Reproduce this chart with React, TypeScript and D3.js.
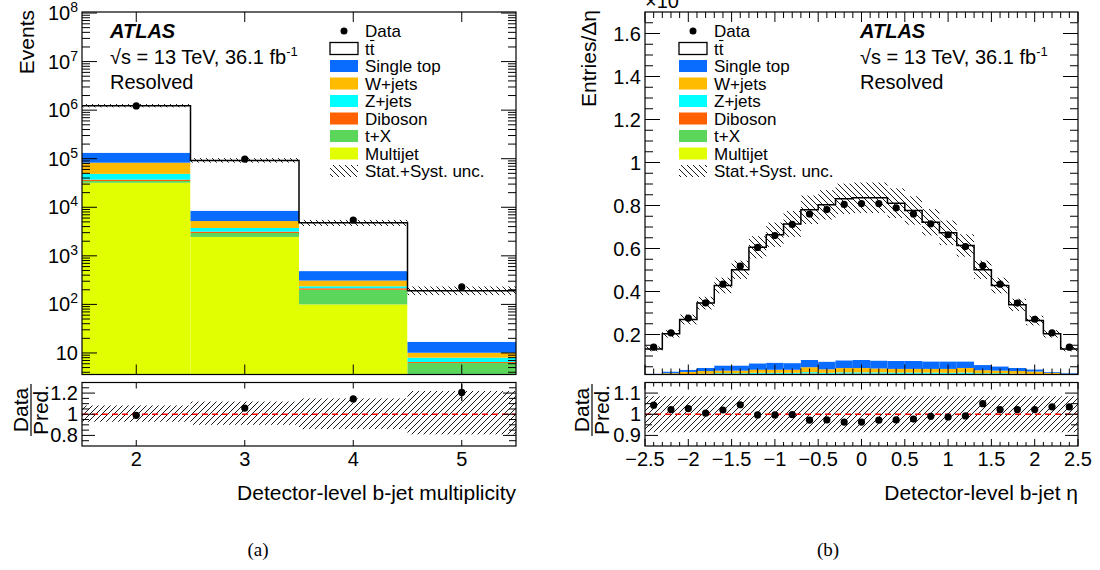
import React from 'react';
import * as d3 from 'd3';

// ---------- (a) b-jet multiplicity ----------
const nbBins = [2, 3, 4, 5];
const nbTtbar = [1.10e6, 8.35e4, 4300, 175];
const nbSingleTop = [5.0e4, 3300, 175, 6.9];
const nbWjets = [3.4e4, 1450, 74, 2.1];
const nbZjets = [1.17e4, 600, 21, 1.5];
const nbDiboson = [2300, 200, 15, 0.3];
const nbTX = [2800, 500, 100, 6.2];
const nbMultijet = [3.2e4, 2450, 100, 0];
const nbData = [1.22e6, 9.8e4, 5470, 229];
const nbRatio = [0.99, 1.058, 1.145, 1.206];
const nbRatioErr = [0.002, 0.005, 0.02, 0.08];
const nbUncUp = [0.083, 0.12, 0.15, 0.22];
const nbUncDown = [0.071, 0.10, 0.14, 0.19];

// ---------- (b) b-jet eta (units of 10^6) ----------
const etaCenters = [-2.4, -2.2, -2.0, -1.8, -1.6, -1.4, -1.2, -1.0, -0.8, -0.6, -0.4, -0.2, 0, 0.2, 0.4, 0.6, 0.8, 1.0, 1.2, 1.4, 1.6, 1.8, 2.0, 2.2, 2.4];
const etaHalfWidth = 0.1;
const etaTtbar = [0.115, 0.175, 0.234, 0.301, 0.372, 0.445, 0.540, 0.595, 0.647, 0.698, 0.729, 0.751, 0.754, 0.757, 0.734, 0.700, 0.647, 0.598, 0.539, 0.443, 0.376, 0.293, 0.227, 0.177, 0.111];
const etaSingleTop = [0.002, 0.008, 0.010, 0.015, 0.024, 0.024, 0.030, 0.033, 0.031, 0.034, 0.036, 0.036, 0.038, 0.037, 0.037, 0.037, 0.035, 0.035, 0.031, 0.024, 0.020, 0.015, 0.010, 0.004, 0.004];
const etaWjets = [0.006, 0.007, 0.010, 0.012, 0.012, 0.012, 0.014, 0.014, 0.014, 0.023, 0.016, 0.020, 0.020, 0.018, 0.017, 0.017, 0.017, 0.018, 0.021, 0.014, 0.012, 0.012, 0.012, 0.009, 0.008];
const etaZjets = [0.002, 0.003, 0.004, 0.004, 0.005, 0.005, 0.005, 0.005, 0.005, 0.006, 0.005, 0.006, 0.006, 0.006, 0.006, 0.006, 0.006, 0.005, 0.006, 0.005, 0.005, 0.004, 0.004, 0.003, 0.002];
const etaDiboson = [0.001, 0.001, 0.001, 0.001, 0.002, 0.002, 0.002, 0.002, 0.002, 0.002, 0.002, 0.002, 0.002, 0.002, 0.002, 0.002, 0.002, 0.002, 0.002, 0.002, 0.002, 0.001, 0.001, 0.001, 0.001];
const etaTX = [0.004, 0.005, 0.006, 0.007, 0.007, 0.007, 0.008, 0.008, 0.008, 0.009, 0.008, 0.008, 0.008, 0.008, 0.008, 0.008, 0.008, 0.008, 0.008, 0.007, 0.007, 0.007, 0.006, 0.005, 0.004];
const etaMultijet = [0.003, 0.004, 0.005, 0.006, 0.006, 0.006, 0.007, 0.007, 0.007, 0.008, 0.007, 0.008, 0.008, 0.008, 0.007, 0.007, 0.007, 0.007, 0.007, 0.006, 0.006, 0.006, 0.005, 0.004, 0.003];
const etaData = [0.141, 0.208, 0.276, 0.347, 0.434, 0.518, 0.605, 0.660, 0.712, 0.760, 0.781, 0.805, 0.809, 0.809, 0.789, 0.761, 0.715, 0.664, 0.609, 0.521, 0.434, 0.346, 0.271, 0.208, 0.141];
const etaRatio = [1.043, 1.022, 1.027, 1.005, 1.02, 1.045, 0.997, 0.997, 0.998, 0.972, 0.973, 0.963, 0.963, 0.972, 0.973, 0.977, 0.99, 0.987, 0.992, 1.05, 1.022, 1.022, 1.022, 1.035, 1.035];
const etaUnc = [0.085, 0.085, 0.085, 0.085, 0.085, 0.085, 0.085, 0.085, 0.085, 0.085, 0.085, 0.085, 0.085, 0.085, 0.085, 0.085, 0.085, 0.085, 0.085, 0.085, 0.085, 0.085, 0.085, 0.085, 0.085];

const legendLabels = ['Single top', 'W+jets', 'Z+jets', 'Diboson', 't+X', 'Multijet'];

const COL = {
  singleTop: '#0a6cff', wjets: '#ffbb00', zjets: '#00ffff', diboson: '#ff6000', tX: '#5bd65b', multijet: '#e1ff00',
};
const FONT = '"Liberation Sans", Arial, Helvetica, sans-serif';
const SERIF = '"Liberation Serif", "Times New Roman", serif';

const LX0 = 82, LX1 = 516, RX0 = 645, RX1 = 1078;
const MT = 12, MB = 374.5, RT = 382.5, RB = 446;

const stackFills = [COL.multijet, COL.tX, COL.diboson, COL.zjets, COL.wjets, COL.singleTop, '#ffffff'];
const fmt = d3.format('~g');

function Legend({ bx, tx }: { bx: number; tx: number }) {
  const y0 = 31, dy = 17.5, bw = 28, bh = 12, fs = 17;
  const rows: any[] = [];
  rows.push(
    <g key="data">
      <circle cx={bx + bw / 2} cy={y0} r={3.5} fill="#000" />
      <text x={tx} y={y0 + 6} fontSize={fs}>Data</text>
    </g>
  );
  rows.push(
    <g key="tt">
      <rect x={bx} y={y0 + dy - bh / 2} width={bw} height={bh} fill="#fff" stroke="#000" strokeWidth={1.3} />
      <text x={tx} y={y0 + dy + 6} fontSize={fs}>tt</text>
      <line x1={tx + 5} x2={tx + 9.4} y1={y0 + dy - 8} y2={y0 + dy - 8} stroke="#000" strokeWidth={1.1} />
    </g>
  );
  const fills = [COL.singleTop, COL.wjets, COL.zjets, COL.diboson, COL.tX, COL.multijet];
  legendLabels.forEach((lab, i) => {
    const cy = y0 + dy * (i + 2);
    rows.push(
      <g key={lab}>
        <rect x={bx} y={cy - bh / 2} width={bw} height={bh} fill={fills[i]} />
        <text x={tx} y={cy + 6} fontSize={fs}>{lab}</text>
      </g>
    );
  });
  const cy = y0 + dy * 8;
  rows.push(
    <g key="unc">
      <rect x={bx} y={cy - bh / 2} width={bw} height={bh} fill="url(#hatchB)" />
      <text x={tx} y={cy + 6} fontSize={fs}>Stat.+Syst. unc.</text>
    </g>
  );
  return <g>{rows}</g>;
}

function AtlasLabel({ x }: { x: number }) {
  return (
    <g>
      <text x={x} y={38} fontSize={20} fontWeight="bold" fontStyle="italic">ATLAS</text>
      <text x={x} y={64} fontSize={20}>√s = 13 TeV, 36.1 fb<tspan dy={-8} fontSize={13}>-1</tspan></text>
      <text x={x} y={89} fontSize={20}>Resolved</text>
    </g>
  );
}

function RatioTitle({ x }: { x: number }) {
  return (
    <g transform={`translate(${x},410) rotate(-90)`}>
      <text x={0} y={-3} fontSize={21} textAnchor="middle">Data</text>
      <line x1={-26} x2={26} y1={0} y2={0} stroke="#000" strokeWidth={1.2} />
      <text x={0} y={17} fontSize={21} textAnchor="middle">Pred.</text>
    </g>
  );
}

function yTicks(key: string, ys: number[], x0: number, x1: number, len: number) {
  return ys.map((y, i) => (
    <g key={`${key}${i}`}>
      <line x1={x0} x2={x0 + len} y1={y} y2={y} stroke="#000" strokeWidth={1} />
      <line x1={x1 - len} x2={x1} y1={y} y2={y} stroke="#000" strokeWidth={1} />
    </g>
  ));
}
function xTicks(key: string, xs: number[], yTop: number, yBot: number, len: number) {
  return xs.map((x, i) => (
    <g key={`${key}${i}`}>
      <line x1={x} x2={x} y1={yBot} y2={yBot - len} stroke="#000" strokeWidth={1} />
      <line x1={x} x2={x} y1={yTop} y2={yTop + len} stroke="#000" strokeWidth={1} />
    </g>
  ));
}

function LeftPanel() {
  const xL = d3.scaleLinear().domain([1.5, 5.5]).range([LX0, LX1]);
  const yL = d3.scaleLog().domain([3.6, 1.05e8]).range([MB, MT]);
  const yLr = d3.scaleLinear().domain([0.7, 1.3]).range([RB, RT]);
  const stack = [nbMultijet, nbTX, nbDiboson, nbZjets, nbWjets, nbSingleTop, nbTtbar];
  const totals = nbBins.map((_, i) => d3.sum(stack, (a) => a[i]));

  const rects: any[] = [];
  nbBins.forEach((c, i) => {
    let cum = 0;
    stack.forEach((arr, k) => {
      const lo = cum, hi = cum + arr[i];
      cum = hi;
      if (arr[i] <= 0) return;
      const yt = yL(hi), yb = lo > 0 ? yL(lo) : MB + 5;
      rects.push(<rect key={`s${i}-${k}`} x={xL(c - 0.5)} y={yt} width={xL(c + 0.5) - xL(c - 0.5)} height={Math.max(0, yb - yt)} fill={stackFills[k]} />);
    });
  });
  const stepPts: [number, number][] = [];
  nbBins.forEach((c, i) => { stepPts.push([xL(c - 0.5), yL(totals[i])]); stepPts.push([xL(c + 0.5), yL(totals[i])]); });
  const step = d3.line()(stepPts) || '';

  const majorY = d3.range(1, 9).map((e) => Math.pow(10, e));
  const minorY: number[] = [];
  for (let e = 0; e <= 8; e++) for (let k = 2; k <= 9; k++) { const v = k * Math.pow(10, e); if (v > 3.6 && v < 1.05e8) minorY.push(v); }

  const ratioMajor = [0.8, 1, 1.2];
  const ratioMinor = [0.75, 0.85, 0.9, 0.95, 1.05, 1.1, 1.15, 1.25];

  return (
    <g>
      <g clipPath="url(#clipLM)">
        {rects}
        {nbBins.map((c, i) => (
          <rect key={`h${i}`} x={xL(c - 0.5)} y={yL(totals[i] * (1 + nbUncUp[i]))} width={xL(c + 0.5) - xL(c - 0.5)}
            height={yL(totals[i] * (1 - nbUncDown[i])) - yL(totals[i] * (1 + nbUncUp[i]))} fill="url(#hatchB)" />
        ))}
        <path d={step} fill="none" stroke="#000" strokeWidth={1.5} />
        {nbBins.map((c, i) => <circle key={`d${i}`} cx={xL(c)} cy={yL(nbData[i])} r={3.6} fill="#000" />)}
      </g>
      {yTicks('lmM', majorY.map((v) => yL(v)), LX0, LX1, 15)}
      {yTicks('lmm', minorY.map((v) => yL(v)), LX0, LX1, 8)}
      {xTicks('lmx', nbBins.map((c) => xL(c)), MT, MB, 10)}
      <rect x={LX0} y={MT} width={LX1 - LX0} height={MB - MT} fill="none" stroke="#000" strokeWidth={1.2} />
      {majorY.map((v, i) => (
        <text key={`yl${i}`} x={LX0 - 4} y={yL(v) + 7} fontSize={20} textAnchor="end">10{i > 0 ? <tspan dy={-8} fontSize={14}>{i + 1}</tspan> : null}</text>
      ))}
      <text transform={`translate(34,10) rotate(-90)`} fontSize={21} textAnchor="end">Events</text>
      <AtlasLabel x={110} />
      <Legend bx={330} tx={365} />

      {/* ratio */}
      <g clipPath="url(#clipLR)">
        {nbBins.map((c, i) => (
          <rect key={`rb${i}`} x={xL(c - 0.5)} y={yLr(1 + nbUncUp[i])} width={xL(c + 0.5) - xL(c - 0.5)}
            height={yLr(1 - nbUncDown[i]) - yLr(1 + nbUncUp[i])} fill="url(#hatchF)" />
        ))}
        <line x1={LX0} x2={LX1} y1={yLr(1)} y2={yLr(1)} stroke="#ff0000" strokeWidth={1.5} strokeDasharray="6 4" />
        {nbBins.map((c, i) => (
          <g key={`rp${i}`}>
            <line x1={xL(c)} x2={xL(c)} y1={yLr(nbRatio[i] - nbRatioErr[i])} y2={yLr(nbRatio[i] + nbRatioErr[i])} stroke="#000" strokeWidth={1.2} />
            <circle cx={xL(c)} cy={yLr(nbRatio[i])} r={3.6} fill="#000" />
          </g>
        ))}
      </g>
      {yTicks('lrM', ratioMajor.map((v) => yLr(v)), LX0, LX1, 13)}
      {yTicks('lrm', ratioMinor.map((v) => yLr(v)), LX0, LX1, 7)}
      {xTicks('lrx', nbBins.map((c) => xL(c)), RT, RB, 6)}
      <rect x={LX0} y={RT} width={LX1 - LX0} height={RB - RT} fill="none" stroke="#000" strokeWidth={1.2} />
      {ratioMajor.map((v, i) => (
        <text key={`ry${i}`} x={LX0 - 4} y={yLr(v) + 7} fontSize={20} textAnchor="end">{fmt(v)}</text>
      ))}
      {nbBins.map((c, i) => (
        <text key={`xl${i}`} x={xL(c)} y={466} fontSize={20} textAnchor="middle">{c}</text>
      ))}
      <RatioTitle x={31} />
      <text x={LX1} y={500} fontSize={21} textAnchor="end">Detector-level b-jet multiplicity</text>
      <text x={258} y={556} fontSize={19} textAnchor="middle" fontFamily={SERIF}>(a)</text>
    </g>
  );
}

function RightPanel() {
  const xR = d3.scaleLinear().domain([-2.5, 2.5]).range([RX0, RX1]);
  const yR = d3.scaleLinear().domain([0.014, 1.7]).range([MB, MT]);
  const yRr = d3.scaleLinear().domain([0.85, 1.15]).range([RB, RT]);
  const stack = [etaMultijet, etaTX, etaDiboson, etaZjets, etaWjets, etaSingleTop, etaTtbar];
  const totals = etaCenters.map((_, i) => d3.sum(stack, (a) => a[i]));

  const rects: any[] = [];
  etaCenters.forEach((c, i) => {
    let cum = 0;
    stack.forEach((arr, k) => {
      const lo = cum, hi = cum + arr[i];
      cum = hi;
      if (arr[i] <= 0) return;
      const yt = yR(hi), yb = yR(lo);
      rects.push(<rect key={`s${i}-${k}`} x={xR(c - etaHalfWidth)} y={yt} width={xR(c + etaHalfWidth) - xR(c - etaHalfWidth)} height={Math.max(0, yb - yt)} fill={stackFills[k]} />);
    });
  });
  const stepPts: [number, number][] = [];
  etaCenters.forEach((c, i) => { stepPts.push([xR(c - etaHalfWidth), yR(totals[i])]); stepPts.push([xR(c + etaHalfWidth), yR(totals[i])]); });
  const step = d3.line()(stepPts) || '';

  const yMajor = d3.range(0.2, 1.61, 0.2).map((v) => +v.toFixed(2));
  const yMinor = d3.range(0.05, 1.7, 0.05).map((v) => +v.toFixed(2)).filter((v) => !yMajor.some((m) => Math.abs(m - v) < 1e-6));
  const xMajor = d3.range(-2.5, 2.51, 0.5).map((v) => +v.toFixed(2));
  const xMinor = d3.range(-2.4, 2.45, 0.1).map((v) => +v.toFixed(2)).filter((v) => !xMajor.some((m) => Math.abs(m - v) < 1e-6));
  const rMajor = [0.9, 1, 1.1];
  const rMinor = [0.95, 1.05];

  return (
    <g>
      <g clipPath="url(#clipRM)">
        {rects}
        {etaCenters.map((c, i) => (
          <rect key={`h${i}`} x={xR(c - etaHalfWidth)} y={yR(totals[i] * (1 + etaUnc[i]))} width={xR(c + etaHalfWidth) - xR(c - etaHalfWidth)}
            height={yR(totals[i] * (1 - etaUnc[i])) - yR(totals[i] * (1 + etaUnc[i]))} fill="url(#hatchB)" />
        ))}
        <path d={step} fill="none" stroke="#000" strokeWidth={1.5} />
        {etaCenters.map((c, i) => <circle key={`d${i}`} cx={xR(c)} cy={yR(etaData[i])} r={3.6} fill="#000" />)}
      </g>
      {yTicks('rmM', yMajor.map((v) => yR(v)), RX0, RX1, 15)}
      {yTicks('rmm', yMinor.map((v) => yR(v)), RX0, RX1, 8)}
      {xTicks('rmX', xMajor.map((v) => xR(v)), MT, MB, 10)}
      {xTicks('rmx', xMinor.map((v) => xR(v)), MT, MB, 6)}
      <rect x={RX0} y={MT} width={RX1 - RX0} height={MB - MT} fill="none" stroke="#000" strokeWidth={1.2} />
      {yMajor.map((v, i) => (
        <text key={`yl${i}`} x={RX0 - 4} y={yR(v) + 7} fontSize={20} textAnchor="end">{fmt(v)}</text>
      ))}
      <text x={RX0} y={8} fontSize={20}>×10<tspan dy={-8} fontSize={14}>6</tspan></text>
      <text transform={`translate(596,10) rotate(-90)`} fontSize={21} textAnchor="end">Entries/Δη</text>
      <AtlasLabel x={860} />
      <Legend bx={679} tx={714} />

      <g clipPath="url(#clipRR)">
        {etaCenters.map((c, i) => (
          <rect key={`rb${i}`} x={xR(c - etaHalfWidth)} y={yRr(1 + etaUnc[i])} width={xR(c + etaHalfWidth) - xR(c - etaHalfWidth)}
            height={yRr(1 - etaUnc[i]) - yRr(1 + etaUnc[i])} fill="url(#hatchF)" />
        ))}
        <line x1={RX0} x2={RX1} y1={yRr(1)} y2={yRr(1)} stroke="#ff0000" strokeWidth={1.5} strokeDasharray="6 4" />
        {etaCenters.map((c, i) => <circle key={`rp${i}`} cx={xR(c)} cy={yRr(etaRatio[i])} r={3.6} fill="#000" />)}
      </g>
      {yTicks('rrM', rMajor.map((v) => yRr(v)), RX0, RX1, 13)}
      {yTicks('rrm', rMinor.map((v) => yRr(v)), RX0, RX1, 7)}
      {xTicks('rrX', xMajor.map((v) => xR(v)), RT, RB, 7)}
      {xTicks('rrx', xMinor.map((v) => xR(v)), RT, RB, 4)}
      <rect x={RX0} y={RT} width={RX1 - RX0} height={RB - RT} fill="none" stroke="#000" strokeWidth={1.2} />
      {rMajor.map((v, i) => (
        <text key={`ry${i}`} x={RX0 - 4} y={yRr(v) + 7} fontSize={20} textAnchor="end">{fmt(v)}</text>
      ))}
      {xMajor.map((v, i) => (
        <text key={`xl${i}`} x={xR(v)} y={466} fontSize={20} textAnchor="middle">{fmt(v)}</text>
      ))}
      <RatioTitle x={592} />
      <text x={RX1} y={500} fontSize={21} textAnchor="end">Detector-level b-jet η</text>
      <text x={828} y={556} fontSize={19} textAnchor="middle" fontFamily={SERIF}>(b)</text>
    </g>
  );
}

export default function App() {
  return (
    <svg width={1100} height={570} style={{ position: 'absolute', left: 0, top: 0, background: '#fff' }} fontFamily={FONT}>
      <defs>
        <pattern id="hatchB" width={6} height={6} patternUnits="userSpaceOnUse">
          <path d="M-1,-1 L7,7 M-1,5 L1,7 M5,-1 L7,1" stroke="#000" strokeWidth={0.9} />
        </pattern>
        <pattern id="hatchF" width={6} height={6} patternUnits="userSpaceOnUse">
          <path d="M-1,7 L7,-1 M-1,1 L1,-1 M5,7 L7,5" stroke="#000" strokeWidth={0.9} />
        </pattern>
        <clipPath id="clipLM"><rect x={LX0} y={MT} width={LX1 - LX0} height={MB - MT} /></clipPath>
        <clipPath id="clipLR"><rect x={LX0} y={RT} width={LX1 - LX0} height={RB - RT} /></clipPath>
        <clipPath id="clipRM"><rect x={RX0} y={MT} width={RX1 - RX0} height={MB - MT} /></clipPath>
        <clipPath id="clipRR"><rect x={RX0} y={RT} width={RX1 - RX0} height={RB - RT} /></clipPath>
      </defs>
      <rect x={0} y={0} width={1100} height={570} fill="#fff" />
      <LeftPanel />
      <RightPanel />
    </svg>
  );
}
